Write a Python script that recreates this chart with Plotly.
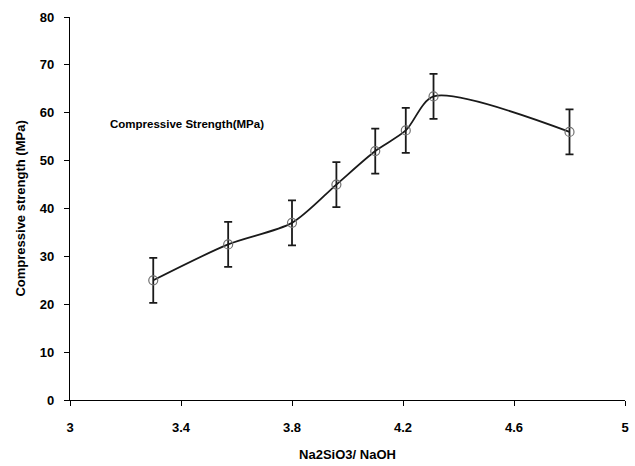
import plotly.graph_objects as go

ratio = [3.30, 3.57, 3.80, 3.96, 4.10, 4.21, 4.31, 4.80]
strength = [25.0, 32.5, 37.0, 45.0, 52.0, 56.3, 63.4, 56.0]
err = [4.7, 4.7, 4.7, 4.7, 4.7, 4.7, 4.7, 4.7]

x_ticks = [3, 3.4, 3.8, 4.2, 4.6, 5]
x_tick_text = ["3", "3.4", "3.8", "4.2", "4.6", "5"]
y_ticks = [0, 10, 20, 30, 40, 50, 60, 70, 80]

font_family = "Liberation Sans, Arial, sans-serif"

fig = go.Figure()
fig.add_trace(go.Scatter(
    x=ratio, y=strength,
    mode="lines+markers",
    line=dict(color="#1a1a1a", width=1.8, shape="spline", smoothing=0.8),
    marker=dict(symbol="circle-open", size=9, color="#707070", line=dict(width=1.2)),
    error_y=dict(type="data", array=err, visible=True, color="#1a1a1a", thickness=1.8, width=4),
    showlegend=False,
))

fig.add_annotation(
    x=0.068, y=0.72, xref="paper", yref="paper",
    text="Compressive Strength(MPa)", showarrow=False,
    xanchor="left", yanchor="middle",
    font=dict(family=font_family, size=11.5, color="black", weight="bold"),
)

# y-axis title as rotated annotation to control its position
fig.add_annotation(
    x=-0.09, y=0.5, xref="paper", yref="paper",
    text="Compressive strength (MPa)", showarrow=False, textangle=-90,
    xanchor="center", yanchor="middle",
    font=dict(family=font_family, size=13, color="black", weight="bold"),
)

fig.update_layout(
    width=635, height=466,
    margin=dict(l=70, r=6, t=17, b=65),
    paper_bgcolor="white", plot_bgcolor="white",
    font=dict(family=font_family, color="black"),
    xaxis=dict(
        range=[3, 5], tickvals=x_ticks, ticktext=x_tick_text,
        showgrid=False, zeroline=False, showline=True, linecolor="black", linewidth=1.2,
        ticks="outside", ticklen=5, tickcolor="black", ticklabelstandoff=10,
        tickfont=dict(size=13, family=font_family, weight="bold"),
        title=dict(text="Na2SiO3/ NaOH", font=dict(size=13, family=font_family, weight="bold"), standoff=16),
    ),
    yaxis=dict(
        range=[0, 80], tickvals=y_ticks, ticktext=[str(t) for t in y_ticks],
        showgrid=False, zeroline=False, showline=True, linecolor="black", linewidth=1.2,
        ticks="outside", ticklen=5, tickcolor="black", ticklabelstandoff=7,
        tickfont=dict(size=13, family=font_family, weight="bold"),
    ),
)

fig.write_html("out.html")
